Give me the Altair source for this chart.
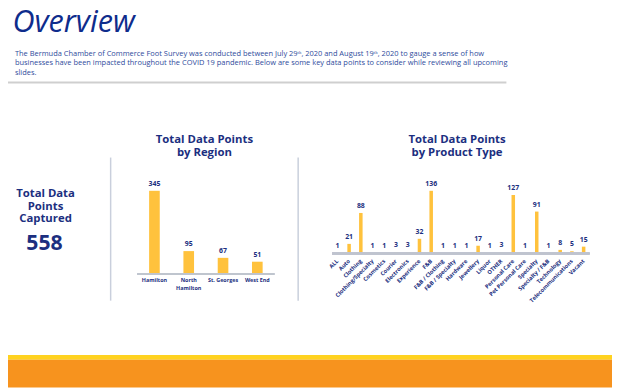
import altair as alt
import pandas as pd

# ---------------- data ----------------
regions = ["Hamilton", "North Hamilton", "St. Georges", "West End"]
region_counts = [345, 95, 67, 51]
region_tick_labels = ["Hamilton", "North\nHamilton", "St. Georges", "West End"]

product_types = ["ALL", "Auto", "Clothing", "Clothing/Specialty", "Cosmetics", "Courier",
                 "Electronics", "Experience", "F&B", "F&B / Clothing", "F&B / Specialty",
                 "Hardware", "Jewellery", "Liquor", "OTHER", "Personal Care",
                 "Pet Personal Care", "Specialty", "Specialty / F&B", "Technology",
                 "Telecommunications", "Vacant"]
product_counts = [1, 21, 88, 1, 1, 3, 3, 32, 136, 1, 1, 1, 17, 1, 3, 127, 1, 91, 1, 8, 5, 15]

total_points = "558"
page_title = "Overview"
intro_lines = [
    "The Bermuda Chamber of Commerce Foot Survey was conducted between July 29ᵗʰ, 2020 and August 19ᵗʰ, 2020 to gauge a sense of how",
    "businesses have been impacted throughout the COVID 19 pandemic. Below are some key data points to consider while reviewing all upcoming",
    "slides.",
]
left_caption = ["Total Data", "Points", "Captured"]
region_title = ["Total Data Points", "by Region"]
product_title = ["Total Data Points", "by Product Type"]

# ---------------- styles ----------------
FONT = "Open Sans"
NAVY = "#1C2F80"
TITLE_BLUE = "#0E2C8C"
PARA_BLUE = "#2E4B9C"
BAR = "#FFC23D"
AXIS_GRAY = "#BFC4CE"
DIV_GRAY = "#C9CFDC"

region_df = pd.DataFrame({"region": regions, "count": region_counts, "tick": region_tick_labels})
product_df = pd.DataFrame({"ptype": product_types, "count": product_counts})
dummy = pd.DataFrame({"a": [0]})

# ---------------- decorations ----------------
base = alt.Chart(dummy)

title_txt = base.mark_text(text=page_title, font=FONT, fontSize=31, fontStyle="italic",
                           color=TITLE_BLUE, align="left", baseline="alphabetic").encode(
    x=alt.value(4.5), y=alt.value(22))

para_txt = base.mark_text(text=intro_lines, font=FONT, fontSize=7.55, color=PARA_BLUE,
                          align="left", baseline="middle", lineHeight=10).encode(
    x=alt.value(7), y=alt.value(43.7))

hr = base.mark_rule(color="#CFCFCF", strokeWidth=2).encode(
    x=alt.value(-1), x2=alt.value(505), y=alt.value(73))

left_cap = base.mark_text(text=left_caption, font=FONT, fontSize=11.5, fontWeight="bold",
                          color=NAVY, align="center", baseline="middle", lineHeight=12.7).encode(
    x=alt.value(38), y=alt.value(186))

total_txt = base.mark_text(text=total_points, font=FONT, fontSize=21.5, fontWeight="bold",
                           color=NAVY, align="center", baseline="middle").encode(
    x=alt.value(37), y=alt.value(237))

reg_title = base.mark_text(text=region_title, font=FONT, fontSize=11.5, fontWeight="bold",
                           color=NAVY, align="center", baseline="middle", lineHeight=13).encode(
    x=alt.value(199), y=alt.value(131))

prod_title = base.mark_text(text=product_title, font=FONT, fontSize=11.5, fontWeight="bold",
                            color=NAVY, align="center", baseline="middle", lineHeight=13).encode(
    x=alt.value(455), y=alt.value(131))

div1 = base.mark_rule(color=DIV_GRAY, strokeWidth=1.5).encode(
    x=alt.value(104), y=alt.value(149), y2=alt.value(294))
div2 = base.mark_rule(color=DIV_GRAY, strokeWidth=1.5).encode(
    x=alt.value(294), y=alt.value(149), y2=alt.value(294))

yellow_band = base.mark_rect(color="#FFD21F").encode(
    x=alt.value(0), x2=alt.value(612), y=alt.value(349), y2=alt.value(354))
orange_band = base.mark_rect(color="#F7931E").encode(
    x=alt.value(0), x2=alt.value(612), y=alt.value(354), y2=alt.value(382))

# ---------------- region chart ----------------
rxs = alt.Scale(range=[131, 270], paddingInner=0.69, paddingOuter=0.345)
rys = alt.Scale(domain=[0, 345], range=[267, 182.7], nice=False, zero=True)
rx = alt.X("region:N", sort=regions, axis=None, scale=rxs)
ry = alt.Y("count:Q", axis=None, scale=rys)
rbase = alt.Chart(region_df)
r_bars = rbase.mark_bar(color=BAR).encode(x=rx, y=ry)
r_vals = rbase.mark_text(font=FONT, fontSize=7, fontWeight="bold", color=NAVY,
                         baseline="bottom", dy=-4).encode(x=rx, y=ry, text="count:Q")
r_ticks = rbase.mark_text(font=FONT, fontSize=5.5, fontWeight="bold", color=NAVY,
                          baseline="top", lineBreak="\n", lineHeight=7.5).encode(
    x=rx, y=alt.value(271.5), text="tick:N")
r_axis = rbase.mark_rule(color=AXIS_GRAY, strokeWidth=1.5).encode(
    x=alt.value(131), x2=alt.value(270),
    y=alt.Y(datum=0, type="quantitative", scale=rys, axis=None))
region_layer = alt.layer(r_bars, r_axis, r_vals, r_ticks)

# ---------------- product chart ----------------
pxs = alt.Scale(range=[327.8, 589.2], paddingInner=0.7, paddingOuter=0.35)
pys = alt.Scale(domain=[0, 136], range=[246.3, 182.7], nice=False, zero=True)
px = alt.X("ptype:N", sort=product_types, axis=None, scale=pxs)
py = alt.Y("count:Q", axis=None, scale=pys)
pbase = alt.Chart(product_df)
p_bars = pbase.mark_bar(color=BAR).encode(x=px, y=py)
p_vals = pbase.mark_text(font=FONT, fontSize=7, fontWeight="bold", color=NAVY,
                         baseline="bottom", dy=-4).encode(x=px, y=py, text="count:Q")
p_ticks = pbase.mark_text(font=FONT, fontSize=5.7, fontWeight="bold", color=NAVY,
                          angle=315, align="right", baseline="middle").encode(
    x=px, y=alt.value(253), text="ptype:N")
p_axis = pbase.mark_rule(color=AXIS_GRAY, strokeWidth=1.5).encode(
    x=alt.value(328.7), x2=alt.value(589),
    y=alt.Y(datum=0, type="quantitative", scale=pys, axis=None))
product_layer = alt.layer(p_bars, p_axis, p_vals, p_ticks)

chart = alt.layer(
    yellow_band, orange_band, title_txt, para_txt, hr, left_cap, total_txt,
    reg_title, prod_title, div1, div2, region_layer, product_layer,
).resolve_scale(x="independent", y="independent").properties(
    width=612, height=382, padding=0, autosize=alt.AutoSizeParams(type="none"),
    background="white"
).configure_view(stroke=None)

chart.save("out.html", embed_options={"renderer": "svg", "actions": False})
